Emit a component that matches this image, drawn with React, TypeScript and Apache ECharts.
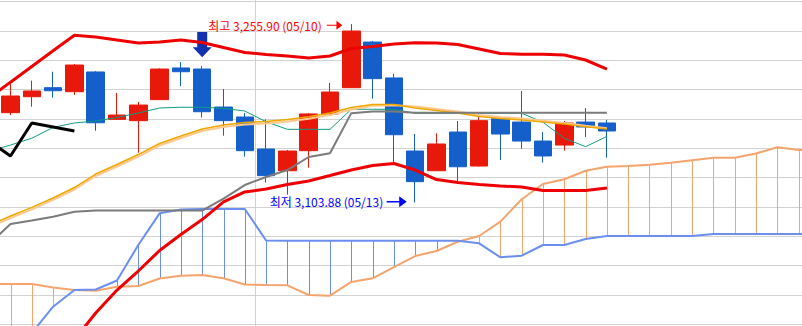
import React, { useEffect, useRef } from "react";
import * as echarts from "echarts";

// Slots run from -1 (hidden, left of the visible area) to 38 (hidden, right edge).
const FIRST_SLOT = -1;
const SLOT_COUNT = 40;
const categories = Array.from({ length: SLOT_COUNT }, (_, k) => String(k + FIRST_SLOT));

// Candles, slots 0..28  [open, close, low, high]
const candleOpen = [3180.4, 3194.0, 3201.7, 3198.3, 3215.1, 3174.7, 3173.6, 3191.5, 3218.5, 3217.6, 3185.2, 3176.7, 3149.4, 3130.9, 3148.0, 3179.3, 3201.7, 3240.6, 3210.0, 3147.7, 3130.9, 3163.9, 3134.9, 3175.3, 3172.4, 3156.2, 3152.8, 3172.4, 3171.6];
const candleClose = [3194.6, 3198.9, 3199.1, 3221.0, 3171.8, 3178.4, 3186.9, 3217.6, 3215.3, 3181.2, 3173.6, 3148.0, 3126.7, 3147.7, 3179.3, 3198.0, 3250.0, 3209.4, 3161.6, 3121.6, 3153.7, 3134.3, 3173.6, 3162.2, 3156.2, 3143.5, 3171.6, 3168.2, 3164.8];
const candleLow = [3178.4, 3185.5, 3193.2, 3195.5, 3165.0, 3174.2, 3146.3, 3191.2, 3203.1, 3176.3, 3160.8, 3142.9, 3120.9, 3110.5, 3133.5, 3178.8, 3201.4, 3192.3, 3137.8, 3103.88, 3130.7, 3121.0, 3134.5, 3140.1, 3149.7, 3137.8, 3148.0, 3159.7, 3142.0];
const candleHigh = [3204.8, 3207.7, 3215.3, 3221.9, 3215.9, 3197.2, 3189.5, 3218.1, 3223.6, 3220.2, 3200.6, 3180.1, 3174.7, 3148.6, 3180.1, 3205.7, 3255.9, 3241.5, 3213.4, 3162.2, 3162.8, 3173.3, 3177.0, 3175.3, 3198.9, 3163.9, 3173.3, 3184.4, 3174.2];
const CANDLE_START = 0;

// Lines, slots -1..28
const tenkan = [3147.7, 3152.8, 3158.6, 3167.8, 3171.6, 3173.3, 3176.3, 3180.1, 3184.4, 3185.0, 3185.0, 3184.1, 3181.8, 3172.7, 3166.2, 3166.2, 3166.2, 3183.3, 3183.3, 3183.2, 3179.9, 3179.9, 3179.9, 3179.9, 3179.9, 3179.9, 3172.2, 3158.6, 3151.4, 3160.2];
const kijun = [3068.4, 3085.5, 3088.5, 3091.7, 3096.0, 3097.0, 3097.0, 3097.0, 3097.0, 3097.0, 3097.0, 3107.2, 3118.7, 3125.6, 3131.5, 3142.6, 3145.8, 3180.0, 3181.5, 3181.5, 3180.4, 3180.4, 3180.4, 3180.4, 3180.4, 3180.4, 3180.4, 3180.4, 3180.4, 3180.4];
const ma20 = [3084.6, 3092.3, 3099.7, 3107.7, 3116.6, 3128.1, 3136.2, 3144.7, 3154.1, 3160.5, 3166.5, 3169.9, 3172.0, 3172.9, 3174.6, 3177.0, 3180.1, 3184.8, 3187.4, 3187.4, 3184.4, 3182.2, 3180.1, 3177.1, 3175.4, 3174.2, 3172.4, 3170.7, 3168.4, 3166.5];
const maAlt = [3082.9, 3090.6, 3098.0, 3106.0, 3114.9, 3126.4, 3134.5, 3143.0, 3152.4, 3158.8, 3164.8, 3168.2, 3170.3, 3171.2, 3172.9, 3175.3, 3178.4, 3183.1, 3186.2, 3186.8, 3185.7, 3183.5, 3181.4, 3178.4, 3176.7, 3175.5, 3173.5, 3171.6, 3169.3, 3167.2];
const bbUpper = [3192.9, 3206.4, 3219.8, 3233.2, 3246.4, 3244.9, 3242.3, 3239.8, 3240.6, 3242.3, 3240.2, 3236.0, 3231.7, 3230.0, 3228.7, 3227.0, 3228.7, 3235.1, 3236.8, 3238.9, 3240.0, 3239.8, 3238.5, 3234.7, 3230.8, 3230.2, 3230.2, 3229.6, 3225.3, 3217.6];
const bbLower = [2976.3, 2978.2, 2979.6, 2982.2, 2986.8, 3009.6, 3029.2, 3045.4, 3062.9, 3076.5, 3089.3, 3104.3, 3112.8, 3115.3, 3119.2, 3122.2, 3126.8, 3131.5, 3135.4, 3137.1, 3131.5, 3123.4, 3120.9, 3119.2, 3117.9, 3117.0, 3114.1, 3114.1, 3114.1, 3116.2];
const LINE_START = -1;

// Lagging span, slots -1..3
const chikou = [3156.2, 3143.5, 3171.6, 3168.2, 3164.8];
const CHIKOU_START = -1;

// Leading spans (cloud), slots -1..38
const spanOrange = [3034.3, 3034.3, 3034.3, 3031.4, 3029.2, 3028.6, 3032.0, 3032.6, 3039.0, 3041.4, 3042.0, 3039.2, 3033.9, 3033.5, 3033.2, 3025.0, 3024.4, 3036.1, 3039.2, 3048.8, 3058.2, 3062.5, 3070.4, 3075.3, 3087.5, 3106.6, 3119.6, 3123.6, 3130.9, 3134.3, 3134.9, 3136.0, 3137.8, 3139.9, 3142.0, 3142.0, 3145.6, 3150.9, 3148.6, 3148.6];
const spanBlue = [2956.8, 2973.8, 2992.6, 3015.0, 3029.2, 3029.7, 3037.3, 3067.6, 3094.6, 3097.9, 3098.3, 3098.3, 3098.3, 3071.4, 3071.3, 3071.3, 3071.3, 3071.3, 3071.3, 3071.3, 3071.3, 3071.3, 3071.3, 3069.0, 3057.1, 3058.5, 3067.6, 3067.6, 3072.7, 3075.3, 3075.3, 3075.3, 3075.3, 3075.3, 3077.0, 3077.0, 3077.0, 3077.0, 3077.0, 3077.0];
const CLOUD_START = -1;

// Signal arrow above slot 9
const signalSlot = 9;

// Annotations
const maxLabel = "최고 3,255.90 (05/10)";
const minLabel = "최저 3,103.88 (05/13)";

// Month boundary split (before slot 12)
const boundarySlot = 12;

// y axis
const Y_MIN = 2950;
const Y_MAX = 3300;
const Y_STEP = 25;

function pad(arr: number[], start: number): (number | string)[] {
  const out: (number | string)[] = new Array(SLOT_COUNT).fill("-");
  arr.forEach((v, k) => {
    const c = start + k - FIRST_SLOT;
    if (c >= 0 && c < SLOT_COUNT) out[c] = v;
  });
  return out;
}

export default function App() {
  const ref = useRef<HTMLDivElement>(null);
  useEffect(() => {
    document.body.style.margin = "0";
    const chart = echarts.init(ref.current!, undefined, { renderer: "svg" });

    const candleData = categories.map((_, c) => {
      const k = c + FIRST_SLOT - CANDLE_START;
      if (k >= 0 && k < candleOpen.length) return [candleOpen[k], candleClose[k], candleLow[k], candleHigh[k]];
      return ["-", "-", "-", "-"];
    });

    const cloudData = spanOrange.map((v, k) => [k + CLOUD_START - FIRST_SLOT, v, spanBlue[k]]);

    const maxK = candleHigh.indexOf(Math.max(...candleHigh));
    const minK = candleLow.indexOf(Math.min(...candleLow));
    const toCat = (k: number) => k + CANDLE_START - FIRST_SLOT;

    const arrowRight = "path://M0,4.4 L10,4.4 L10,0 L16,5 L10,10 L10,5.6 L0,5.6 Z";
    const arrowDown = "path://M4.5,0 L14.5,0 L14.5,15 L19,15 L9.5,25 L0,15 L4.5,15 Z";

    const lineSeries = (name: string, data: number[], start: number, color: string, width: number) => ({
      name,
      type: "line",
      data: pad(data, start),
      showSymbol: false,
      symbol: "none",
      silent: true,
      lineStyle: { color, width },
      itemStyle: { color },
    });

    const option: any = {
      animation: false,
      grid: {
        left: -21.45,
        top: -27.63,
        width: 852,
        height: 410.58,
        containLabel: false,
        outerBoundsMode: "none",
      },
      xAxis: {
        type: "category",
        data: categories,
        boundaryGap: true,
        axisLine: { show: false },
        axisTick: { show: false },
        axisLabel: { show: false },
        splitLine: { show: false },
      },
      yAxis: {
        type: "value",
        min: Y_MIN,
        max: Y_MAX,
        interval: Y_STEP,
        axisLine: { show: false },
        axisTick: { show: false },
        axisLabel: { show: false },
        splitLine: { show: true, lineStyle: { color: "#d2d2d2", width: 1 } },
      },
      series: [
        {
          name: "boundary",
          type: "custom",
          silent: true,
          data: [[boundarySlot - FIRST_SLOT, Y_MIN]],
          renderItem: (params: any, api: any) => {
            const p = api.coord([api.value(0), api.value(1)]);
            const band = api.size([1, 0])[0];
            const x = Math.round(p[0] - band / 2) + 0.5;
            const cs = params.coordSys;
            return {
              type: "line",
              shape: { x1: x, y1: cs.y, x2: x, y2: cs.y + cs.height },
              style: { stroke: "#d2d2d2", lineWidth: 1 },
            };
          },
        },
        {
          name: "cloudFill",
          type: "custom",
          silent: true,
          data: cloudData,
          encode: { x: 0, y: [1, 2] },
          renderItem: (params: any, api: any) => {
            const c = api.value(0);
            const a = api.value(1);
            const b = api.value(2);
            const p1 = api.coord([c, a]);
            const p2 = api.coord([c, b]);
            const x = Math.round(p1[0]) + 0.5;
            return {
              type: "line",
              shape: { x1: x, y1: p1[1], x2: x, y2: p2[1] },
              style: { stroke: a >= b ? "#f5a46c" : "#6b8ff0", lineWidth: 1 },
            };
          },
        },
        lineSeries("spanOrange", spanOrange, CLOUD_START, "#f5a46c", 2),
        lineSeries("spanBlue", spanBlue, CLOUD_START, "#6b8ff0", 2),
        lineSeries("tenkan", tenkan, LINE_START, "#0f9a82", 1),
        lineSeries("maAlt", maAlt, LINE_START, "#ffc890", 2),
        lineSeries("ma20", ma20, LINE_START, "#f0a800", 1.5),
        lineSeries("kijun", kijun, LINE_START, "#7b7b7b", 2),
        lineSeries("bbUpper", bbUpper, LINE_START, "#ee0000", 3),
        lineSeries("bbLower", bbLower, LINE_START, "#ee0000", 3),
        lineSeries("chikou", chikou, CHIKOU_START, "#000000", 3),
        {
          name: "candles",
          type: "candlestick",
          silent: true,
          barWidth: 18,
          data: candleData,
          itemStyle: {
            color: "#e8190b",
            color0: "#155fcb",
            borderColor: "#e8190b",
            borderColor0: "#155fcb",
            borderWidth: 1,
          },
        },
        {
          name: "signal",
          type: "scatter",
          silent: true,
          symbol: arrowDown,
          symbolSize: [19, 25.3],
          symbolOffset: [0, -21.3],
          itemStyle: { color: "#1232b0", opacity: 1 },
          data: [[toCat(signalSlot - CANDLE_START), candleHigh[signalSlot - CANDLE_START]]],
        },
        {
          name: "maxNote",
          type: "scatter",
          silent: true,
          symbol: arrowRight,
          symbolSize: [15.5, 9],
          symbolOffset: [-16.8, 1.2],
          itemStyle: { color: "#ff0000", opacity: 1 },
          label: {
            show: true,
            position: "left",
            distance: 5,
            formatter: maxLabel,
            color: "#ff0000",
            fontSize: 12,
            fontFamily: "Noto Sans CJK KR",
          },
          data: [[toCat(maxK), candleHigh[maxK]]],
        },
        {
          name: "minNote",
          type: "scatter",
          silent: true,
          symbol: arrowRight,
          symbolSize: [20, 11],
          symbolOffset: [-18.5, -0.7],
          itemStyle: { color: "#0000ff", opacity: 1 },
          label: {
            show: true,
            position: "left",
            distance: 3.5,
            formatter: minLabel,
            color: "#0000ff",
            fontSize: 12,
            fontFamily: "Noto Sans CJK KR",
          },
          data: [[toCat(minK), candleLow[minK]]],
        },
      ],
    };

    chart.setOption(option);
    return () => chart.dispose();
  }, []);

  return (
    <div
      ref={ref}
      style={{ position: "absolute", left: 0, top: 0, width: 802, height: 326, background: "#ffffff" }}
    />
  );
}
